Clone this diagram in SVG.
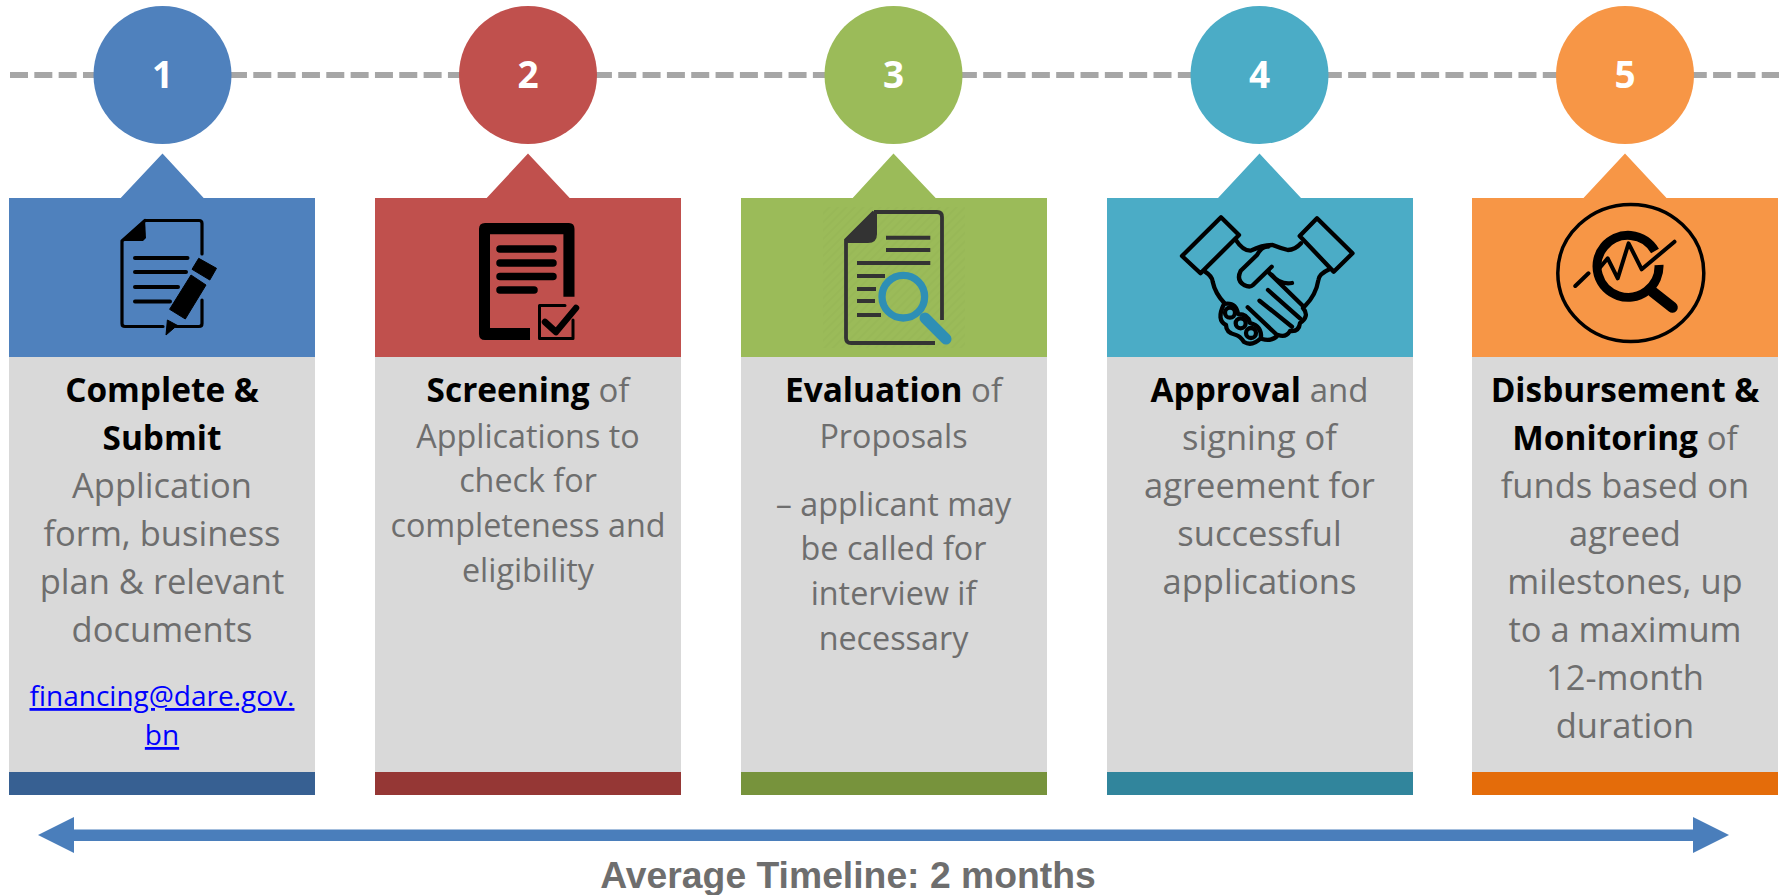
<svg xmlns="http://www.w3.org/2000/svg" width="1785" height="895" viewBox="0 0 1785 895">
<style>
text{font-family:"Open Sans","Noto Sans","Liberation Sans",sans-serif;text-anchor:middle}
.b{font-size:34.500px;fill:#6e6e6e}
.s{font-size:32.300px;fill:#6e6e6e}
.k{font-size:33.400px;font-weight:700;fill:#000}
.r{font-weight:400;fill:#6e6e6e;font-size:33px}
.n{font-size:37px;font-weight:700;fill:#fff}
.l{font-size:28px;fill:#0000ff;text-decoration:underline}
.t{font-family:"Liberation Sans",Arial,sans-serif;font-size:37.300px;font-weight:700;fill:#6e6e6e}
.g{fill:#d9d9d9}
.o{fill:none;stroke:#000;stroke-linecap:round;stroke-linejoin:round}
</style>
<defs>
<pattern id="st" width="6" height="6" patternUnits="userSpaceOnUse" patternTransform="rotate(45)"><rect width="2" height="6" fill="#8fae52" opacity=".5"/></pattern>
</defs>
<g id="connectors">
<line x1="10" y1="75" x2="1779" y2="75" stroke="#a6a6a6" stroke-width="6" stroke-dasharray="18 6.33"/>
<path d="M38 835 L74 817 V829.500 H1693 V817 L1729 835 L1693 853 V841 H74 V853Z" fill="#4a7ebb"/>
</g>
<g id="step1">
<circle cx="162.500" cy="75" r="69" fill="#4f81bd"/>
<text class="n" x="162.500" y="88">1</text>
<path d="M9 198H120.700L162.500 153.500L203.700 198H315V357H9Z" fill="#4f81bd"/>
<rect class="g" x="9" y="357" width="306" height="415"/>
<rect x="9" y="772" width="306" height="23" fill="#376092"/>
<path d="M145 220.500H199Q202 220.500 202 223.500V254M202 300V323.500Q202 326.500 199 326.500H176M163 326.500H125Q122 326.500 122 323.500V241L145 220.500" class="o" stroke-width="3.200"/>
<path d="M145 219L121 241H143L146 238Z"/>
<path d="M135 258H187.500M135 272H186M135 287H178M135 301.500H170" class="o" stroke-width="4" stroke-linecap="butt"/>
<path d="M198.700 258.300L216.500 268.300L209.800 280L192 269.300ZM191 275L206 285L185.300 319L169.600 309.300ZM167.400 320L177.200 325.300L166 335Z" stroke="#000" stroke-linejoin="round"/>
<text class="k" x="162" y="402">Complete &amp;</text>
<text class="k" x="162" y="450">Submit</text>
<text class="b" x="162" y="498">Application</text>
<text class="b" x="162" y="546">form, business</text>
<text class="b" x="162" y="594">plan &amp; relevant</text>
<text class="b" x="162" y="642">documents</text>
<text class="l" x="162" y="706">financing@dare.gov.</text>
<text class="l" x="162" y="745">bn</text>
</g>
<g id="step2">
<circle cx="528" cy="75" r="69" fill="#c0504d"/>
<text class="n" x="528" y="88">2</text>
<path d="M375 198H486.700L528 153.500L569.700 198H681V357H375Z" fill="#c0504d"/>
<rect class="g" x="375" y="357" width="306" height="415"/>
<rect x="375" y="772" width="306" height="23" fill="#953735"/>
<path d="M485 223H569Q574.500 223 574.500 229V296.700H563.400V234.300H490V328H530V340H485Q479 340 479 334V229Q479 223 485 223Z"/>
<path d="M500 249H553M500 263H553M500 276.500H553M500 290H534" class="o" stroke-width="7.500"/>
<path d="M565 305.500H539.500V338.500H573V320" class="o" stroke-width="3"/>
<path d="M545 322L556 332L576 308" class="o" stroke-width="6.500" stroke-linecap="butt"/>
<text class="k" x="528" y="402">Screening <tspan class="r">of</tspan></text>
<text class="s" x="528" y="448">Applications to</text>
<text class="s" x="528" y="492">check for</text>
<text class="s" x="528" y="537">completeness and</text>
<text class="s" x="528" y="582">eligibility</text>
</g>
<g id="step3">
<circle cx="893.500" cy="75" r="69" fill="#9bbb59"/>
<text class="n" x="893.500" y="88">3</text>
<path d="M741 198H852.700L893.500 153.500L935.700 198H1047V357H741Z" fill="#9bbb59"/>
<rect class="g" x="741" y="357" width="306" height="415"/>
<rect x="741" y="772" width="306" height="23" fill="#77933c"/>
<rect x="823" y="207" width="142" height="141" fill="url(#st)" opacity=".5"/>
<path d="M874 212H937Q942 212 942 217V320M935 343H851Q846 343 846 338V240L874 212" fill="none" stroke="#333" stroke-width="3.800"/>
<path d="M874 211L845 240L845 243H868Q877 243 877 234V211Z" fill="#333"/>
<path d="M886 237.700H930.300M886 250H930.300M857 263H930.300M857 276H885M857 289H876M857 301H875M857 315H881" fill="none" stroke="#333" stroke-width="4"/>
<circle cx="903.300" cy="296.700" r="21.300" fill="none" stroke="#2e8fb5" stroke-width="7.300"/>
<path d="M925 318L946 339" stroke="#2e8fb5" stroke-width="11" stroke-linecap="round"/>
<text class="k" x="893.500" y="402">Evaluation <tspan class="r">of</tspan></text>
<text class="s" x="893.500" y="448">Proposals</text>
<text class="s" x="893.500" y="516">– applicant may</text>
<text class="s" x="893.500" y="560">be called for</text>
<text class="s" x="893.500" y="605">interview if</text>
<text class="s" x="893.500" y="650">necessary</text>
</g>
<g id="step4">
<circle cx="1259.500" cy="75" r="69" fill="#4bacc6"/>
<text class="n" x="1259.500" y="88">4</text>
<path d="M1107 198H1218L1259.500 153.500L1301 198H1413V357H1107Z" fill="#4bacc6"/>
<rect class="g" x="1107" y="357" width="306" height="415"/>
<rect x="1107" y="772" width="306" height="23" fill="#31859c"/>
<g class="o" stroke-width="4.300">
<path d="M1221 217.300L1239 235L1200.500 273.300L1182 256ZM1317 218.300L1352.500 253.300L1333.700 271.700L1299.700 236Z"/>
<path d="M1235.400 239.300Q1243 251 1250.700 250.700Q1262 245 1272.600 245Q1280 248 1287.900 250Q1295 250 1301 243.300"/>
<path d="M1268 246.700Q1262 246 1257 255L1240.700 270.700Q1236 280 1244 285Q1250 288 1253 285L1271.700 266.700"/>
<path d="M1268 271.700L1303 306M1272 275Q1280 285 1292 283"/>
<path d="M1205 271.700Q1212 276 1212.700 281.700Q1215 293 1224.500 303.300M1329.400 269.300Q1319 274 1318.400 280Q1316 295 1305 306"/>
<path d="M1268 290L1300 318.300M1259.500 300.700L1292 326.700M1247.700 307.300L1276 334"/>
<path d="M1303 308Q1310 316 1300 323Q1299 332 1290 331Q1286 338 1278 335Q1272 342 1262 339"/>
<circle cx="1230" cy="312.700" r="5"/><circle cx="1240.700" cy="323.300" r="5"/><circle cx="1251" cy="333" r="5"/>
<path d="M1224 304Q1236 302 1238 314Q1248 314 1250 323Q1262 326 1261 338Q1252 347 1244 342Q1240 336 1236 335Q1226 333 1226 325Q1216 320 1224 304Z"/>
</g>
<text class="k" x="1259.500" y="402">Approval <tspan class="r">and</tspan></text>
<text class="b" x="1259.500" y="450">signing of</text>
<text class="b" x="1259.500" y="498">agreement for</text>
<text class="b" x="1259.500" y="546">successful</text>
<text class="b" x="1259.500" y="594">applications</text>
</g>
<g id="step5">
<circle cx="1625" cy="75" r="69" fill="#f79646"/>
<text class="n" x="1625" y="88">5</text>
<path d="M1472 198H1583.500L1625 153.500L1666.500 198H1778V357H1472Z" fill="#f79646"/>
<rect class="g" x="1472" y="357" width="306" height="415"/>
<rect x="1472" y="772" width="306" height="23" fill="#e46c0a"/>
<ellipse cx="1630.800" cy="273" rx="73" ry="68.500" fill="none" stroke="#000" stroke-width="3.500"/>
<path d="M1655 251A31 31 0 1 0 1659 265" fill="none" stroke="#000" stroke-width="9"/>
<path d="M1652.600 291.700L1672.300 307.300" stroke="#000" stroke-width="11" stroke-linecap="round"/>
<path d="M1575.300 286L1588.500 273.300M1600.200 267.300L1607.700 258.300L1617.700 278.300L1628.600 243.300L1641.700 269.300L1674.500 241.700" class="o" stroke-width="4" stroke-linecap="butt" stroke-linejoin="miter"/>
<text class="k" x="1625" y="402">Disbursement &amp;</text>
<text class="k" x="1625" y="450">Monitoring <tspan class="r">of</tspan></text>
<text class="b" x="1625" y="498">funds based on</text>
<text class="b" x="1625" y="546">agreed</text>
<text class="b" x="1625" y="594">milestones, up</text>
<text class="b" x="1625" y="642">to a maximum</text>
<text class="b" x="1625" y="690">12-month</text>
<text class="b" x="1625" y="738">duration</text>
</g>
<text class="t" x="848" y="888">Average Timeline: 2 months</text>
</svg>
